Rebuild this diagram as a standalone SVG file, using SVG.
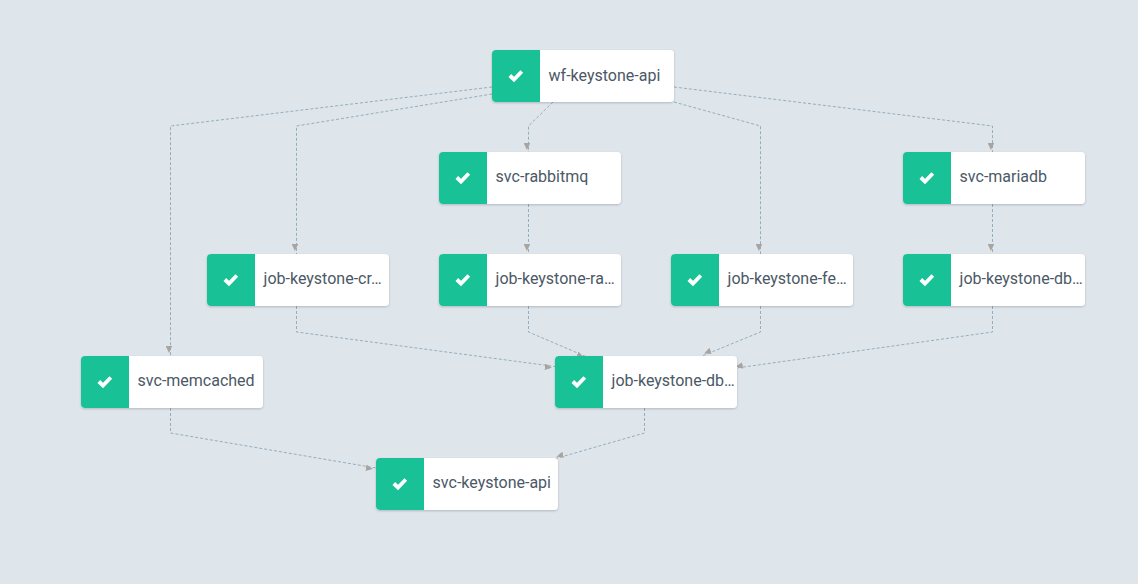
<svg xmlns="http://www.w3.org/2000/svg" width="1138" height="584" viewBox="0 0 1138 584">
<style>
.e{fill:none;stroke:#83a0b3;stroke-width:.8;stroke-dasharray:3 2;marker-end:url(#a)}
.c{fill:#fff;filter:url(#s)}
.g{fill:#19c196}
.k{fill:none;stroke:#fff;stroke-width:3.8}
text{font-family:Roboto,"Liberation Sans",sans-serif;font-size:16px;fill:#4b5866}
</style>
<defs>
<filter id="s" x="-5%" y="-10%" width="110%" height="125%"><feDropShadow dx="0" dy="1" stdDeviation="1" flood-color="#10161a" flood-opacity="0.2"/></filter>
<marker id="a" viewBox="0 0 10 6.500" refX="10" refY="1.700" markerWidth="10" markerHeight="6.500" markerUnits="userSpaceOnUse" orient="auto"><path d="M0 0L7 3.250L0 6.500Z" fill="#a8a5a1"/></marker>
<path id="n" d="M4 0H178a4 4 0 0 1 4 4V48a4 4 0 0 1-4 4H4a4 4 0 0 1-4-4V4a4 4 0 0 1 4-4Z"/>
<path id="b" d="M4 0H48V52H4a4 4 0 0 1-4-4V4a4 4 0 0 1 4-4Z"/>
<path id="t" d="M17.800 25.500L22 29.500L29.800 21.500"/>
</defs>
<rect width="1138" height="584" fill="#dee5eb"/>
<g id="connectors">
<path class="e" d="M492 87L170.500 126V356"/>
<path class="e" d="M492 94L296.500 126V254"/>
<path class="e" d="M553 102L528.500 126V153"/>
<path class="e" d="M674 102L760.500 126V254"/>
<path class="e" d="M674 87L992.500 126V153"/>
<path class="e" d="M528.500 204V254"/>
<path class="e" d="M992.500 204V254"/>
<path class="e" d="M296.500 306V332L555 366.500"/>
<path class="e" d="M528.500 306V332L587 357"/>
<path class="e" d="M760.500 306V332L702 356"/>
<path class="e" d="M992.500 306V332L733 368.500"/>
<path class="e" d="M170.500 408V433L376 468"/>
<path class="e" d="M644.500 408V433L554 459"/>
</g>
<g id="wf-keystone-api" transform="translate(492 50)"><use href="#n" class="c"/><use href="#b" class="g"/><use href="#t" class="k"/><text x="56.600" y="31">wf-keystone-api</text></g>
<g id="svc-rabbitmq" transform="translate(439 152)"><use href="#n" class="c"/><use href="#b" class="g"/><use href="#t" class="k"/><text x="56.600" y="30">svc-rabbitmq</text></g>
<g id="svc-mariadb" transform="translate(903 152)"><use href="#n" class="c"/><use href="#b" class="g"/><use href="#t" class="k"/><text x="56.600" y="30">svc-mariadb</text></g>
<g id="job-keystone-cr" transform="translate(207 254)"><use href="#n" class="c"/><use href="#b" class="g"/><use href="#t" class="k"/><text x="56.600" y="30">job-keystone-cr…</text></g>
<g id="job-keystone-ra" transform="translate(439 254)"><use href="#n" class="c"/><use href="#b" class="g"/><use href="#t" class="k"/><text x="56.600" y="30">job-keystone-ra…</text></g>
<g id="job-keystone-fe" transform="translate(671 254)"><use href="#n" class="c"/><use href="#b" class="g"/><use href="#t" class="k"/><text x="56.600" y="30">job-keystone-fe…</text></g>
<g id="job-keystone-db-a" transform="translate(903 254)"><use href="#n" class="c"/><use href="#b" class="g"/><use href="#t" class="k"/><text x="56.600" y="30">job-keystone-db…</text></g>
<g id="svc-memcached" transform="translate(81 356)"><use href="#n" class="c"/><use href="#b" class="g"/><use href="#t" class="k"/><text x="56.600" y="30">svc-memcached</text></g>
<g id="job-keystone-db-b" transform="translate(555 356)"><use href="#n" class="c"/><use href="#b" class="g"/><use href="#t" class="k"/><text x="56.600" y="30">job-keystone-db…</text></g>
<g id="svc-keystone-api" transform="translate(376 458)"><use href="#n" class="c"/><use href="#b" class="g"/><use href="#t" class="k"/><text x="56.600" y="30">svc-keystone-api</text></g>
</svg>
